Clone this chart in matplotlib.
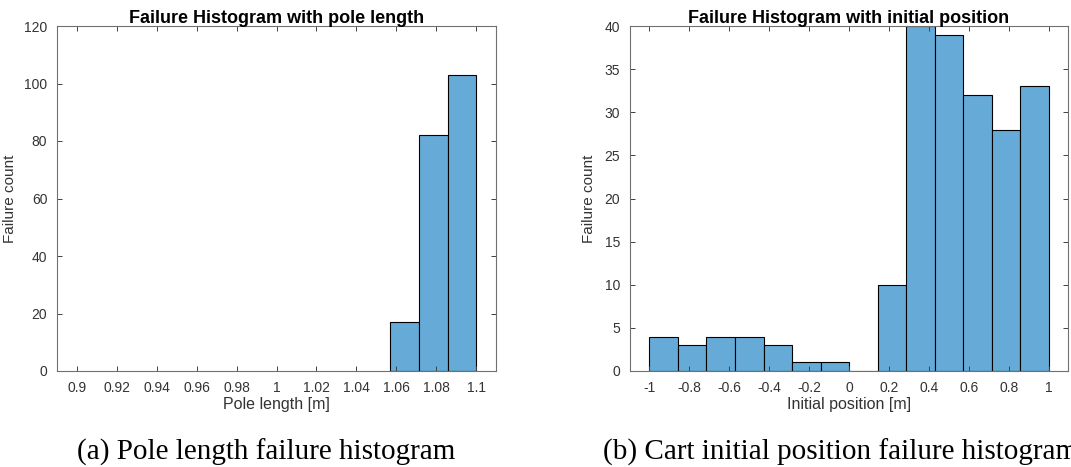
import matplotlib
matplotlib.use("Agg")
import matplotlib.pyplot as plt
import numpy as np

# Data
pole_edges = [1.0571, 1.0714, 1.0857, 1.1]
pole_counts = [17, 82, 103]
pole_ticks = [0.9, 0.92, 0.94, 0.96, 0.98, 1.0, 1.02, 1.04, 1.06, 1.08, 1.1]
pole_ticklabels = ["0.9", "0.92", "0.94", "0.96", "0.98", "1", "1.02", "1.04", "1.06", "1.08", "1.1"]

pos_edges = [-1.0, -0.8571, -0.7143, -0.5714, -0.4286, -0.2857, -0.1429, 0.0,
             0.1429, 0.2857, 0.4286, 0.5714, 0.7143, 0.8571, 1.0]
pos_counts = [4, 3, 4, 4, 3, 1, 1, 0, 10, 40, 39, 32, 28, 33]
pos_ticks = [-1, -0.8, -0.6, -0.4, -0.2, 0, 0.2, 0.4, 0.6, 0.8, 1]
pos_ticklabels = ["-1", "-0.8", "-0.6", "-0.4", "-0.2", "0", "0.2", "0.4", "0.6", "0.8", "1"]

plt.rcParams['font.family'] = ['Liberation Sans', 'DejaVu Sans']

BAR = (0.4, 0.668, 0.845)
TXT = '#333333'
SP = '#707070'

fig = plt.figure(figsize=(10.71, 4.67), dpi=100)

def style(ax, xlim, ylim, xticks, xticklabels, yticks, title, xlabel, ylab_x):
    ax.set_xlim(*xlim)
    ax.set_ylim(*ylim)
    ax.set_xticks(xticks)
    ax.set_xticklabels(xticklabels)
    ax.set_yticks(yticks)
    ax.set_yticklabels([str(int(v)) for v in yticks])
    ax.tick_params(direction='in', top=True, right=True, length=3.5, width=0.7,
                   colors='#404040', labelcolor=TXT, labelsize=10, pad=7)
    for s in ax.spines.values():
        s.set_color(SP)
        s.set_linewidth(0.8)
    ax.set_title(title, fontweight='bold', fontsize=13, color='black', pad=2)
    ax.set_xlabel(xlabel, fontsize=11.5, color=TXT, labelpad=2)
    ax.set_ylabel('Failure count', fontsize=11, color=TXT)
    ax.yaxis.set_label_coords(ylab_x, 0.5)

ax1 = fig.add_axes([57/1071, 1 - 371/467, (496-57)/1071, (371-26)/467])
ax1.bar(pole_edges[:-1], pole_counts, width=np.diff(pole_edges), align='edge',
        color=BAR, edgecolor='black', linewidth=0.8)
style(ax1, (0.89, 1.11), (0, 120), pole_ticks, pole_ticklabels,
      [0, 20, 40, 60, 80, 100, 120], 'Failure Histogram with pole length', 'Pole length [m]',
      (17 - 57) / 439)

ax2 = fig.add_axes([630/1071, 1 - 371/467, (1068-630)/1071, (371-26)/467])
ax2.bar(pos_edges[:-1], pos_counts, width=np.diff(pos_edges), align='edge',
        color=BAR, edgecolor='black', linewidth=0.8)
style(ax2, (-1.097, 1.095), (0, 40), pos_ticks, pos_ticklabels,
      [0, 5, 10, 15, 20, 25, 30, 35, 40], 'Failure Histogram with initial position', 'Initial position [m]',
      (596 - 630) / 438)

fig.text(266/1071, 1 - 452/467, '(a) Pole length failure histogram', ha='center', va='center',
         fontsize=21, family='Liberation Serif', color='black')
fig.text(603/1071, 1 - 452/467, '(b) Cart initial position failure histogram', ha='left', va='center',
         fontsize=21, family='Liberation Serif', color='black')

fig.savefig('out.png', dpi=100)
